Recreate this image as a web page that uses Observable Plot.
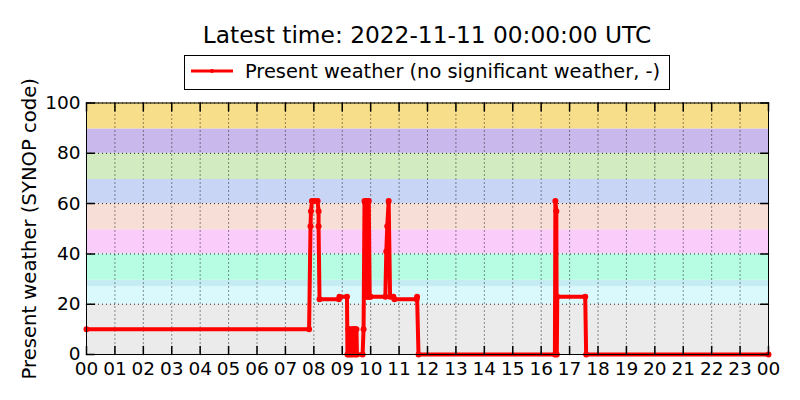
<!DOCTYPE html>
<html>
<head>
<meta charset="utf-8">
<script src="https://cdn.jsdelivr.net/npm/d3@7"></script>
<script src="https://cdn.jsdelivr.net/npm/@observablehq/plot@0.6"></script>
<style>
  body { margin: 0; background: #fff; font-family: "DejaVu Sans", sans-serif; }
  #wrap { position: relative; width: 800px; height: 400px; overflow: hidden; }
  #chart { position: absolute; left: 0; top: 0; }
  .title { position: absolute; left: 86px; width: 682px; top: 22.6px; text-align: center; font-size: 23.3px; line-height: 1; white-space: nowrap; color: #000; }
  .legend { position: absolute; left: 184px; top: 55px; width: 484px; height: 33px; border: 1px solid #000; background: #fff; }
  .legsym { position: absolute; left: 188px; top: 65px; }
  .legtext { position: absolute; left: 245px; top: 61.9px; font-size: 19.4px; line-height: 1; white-space: nowrap; color: #000; }
</style>
</head>
<body>
<div id="wrap">
  <div id="chart"></div>
  <div class="title" id="title"></div>
  <div class="legend"></div>
  <svg class="legsym" width="50" height="12"><line x1="3" x2="45" y1="6" y2="6" stroke="red" stroke-width="3"/><circle cx="24" cy="6" r="2" fill="red"/></svg>
  <div class="legtext" id="legtext"></div>
</div>
<script>
// ---- Data ----
const titleText = "Latest time: 2022-11-11 00:00:00 UTC";
const seriesLabel = "Present weather (no significant weather, -)";
const yLabel = "Present weather (SYNOP code)";

const times = [
  "00:00","07:50","07:53","07:54","07:56","08:02","08:08","08:10","08:10","08:12",
  "08:53","08:54","09:10","09:11","09:13","09:14","09:16","09:18","09:20","09:22",
  "09:24","09:26","09:27","09:28","09:30","09:31","09:43","09:45","09:47","09:49",
  "09:50","09:52","09:53","09:55","09:56","09:58","10:00","10:31","10:33","10:35",
  "10:38","10:41","10:48","10:50","11:37","11:38","11:41","16:29","16:30","16:32",
  "16:33","16:34","17:33","17:35","24:00"
];
const codes = [
  10,10,51,57,61,61,61,57,51,22,
  22,23,23,0,10,0,10,0,10,0,
  10,10,0,10,10,0,0,10,61,23,
  61,23,61,23,61,23,23,23,41,51,
  61,23,23,22,22,23,0,0,61,57,
  0,23,23,0,0
];

const hourTicks = d3.range(0, 25);           // 00 .. 24 (shown as 00)
const yTicks = [0, 20, 40, 60, 80, 100];

const bandLo    = [0, 20, 27, 29.5, 40, 49.6, 60, 69.6, 80, 89.7];
const bandHi    = [20, 27, 29.5, 40, 49.6, 60, 69.6, 80, 89.7, 100];
const bandColor = ["#ebebeb","#d9f9fc","#c5ebf3","#b7fde3","#f9ccf9","#f7ded6","#c8d5f5","#d2ebc0","#c9b8ec","#f7de8a"];

// ---- Build ----
document.getElementById("title").textContent = titleText;
document.getElementById("legtext").textContent = seriesLabel;

const start = new Date(Date.UTC(2022, 10, 10));
const toDate = s => { const [h, m] = s.split(":").map(Number); return new Date(start.getTime() + (h * 60 + m) * 60000); };
const data = times.map((t, i) => ({ time: toDate(t), code: codes[i] }));
const xDomain = [toDate("00:00"), toDate("24:00")];
const tickDates = hourTicks.map(h => toDate(h + ":00"));
const bands = bandLo.map((lo, i) => ({ lo, hi: bandHi[i], color: bandColor[i] }));

const tickShape = { draw(ctx, l) { ctx.moveTo(0, 0); ctx.lineTo(0, -l); } };
const tickLen = 8;

const chart = Plot.plot({
  width: 800,
  height: 400,
  marginLeft: 86,
  marginRight: 32,
  marginTop: 102.5,
  marginBottom: 46,
  style: { fontFamily: "DejaVu Sans", fontSize: "18.5px", color: "black", background: "transparent" },
  x: { type: "utc", domain: xDomain },
  y: { domain: [0, 100] },
  color: { type: "identity" },
  marks: [
    Plot.rect(bands, { x1: () => xDomain[0], x2: () => xDomain[1], y1: "lo", y2: "hi", fill: "color" }),
    Plot.ruleX(tickDates, { x: d => d, stroke: "#000", strokeWidth: 1, strokeDasharray: "1,3", strokeOpacity: 0.85 }),
    Plot.ruleY(yTicks, { y: d => d, stroke: "#000", strokeWidth: 1, strokeDasharray: "1,3", strokeOpacity: 0.85 }),
    Plot.line(data, { x: "time", y: "code", stroke: "red", strokeWidth: 4, strokeLinejoin: "round" }),
    Plot.dot(data, { x: "time", y: "code", r: 3, fill: "red" }),
    Plot.frame({ stroke: "black", strokeWidth: 1 }),
    Plot.vector(tickDates, { x: d => d, frameAnchor: "bottom", length: tickLen, rotate: 0, anchor: "start", shape: tickShape, stroke: "black" }),
    Plot.vector(tickDates, { x: d => d, frameAnchor: "top", length: tickLen, rotate: 180, anchor: "start", shape: tickShape, stroke: "black" }),
    Plot.vector(yTicks, { y: d => d, frameAnchor: "left", length: tickLen, rotate: 90, anchor: "start", shape: tickShape, stroke: "black" }),
    Plot.vector(yTicks, { y: d => d, frameAnchor: "right", length: tickLen, rotate: -90, anchor: "start", shape: tickShape, stroke: "black" }),
    Plot.axisX({ ticks: tickDates, tickFormat: d3.utcFormat("%H"), tickSize: 0, tickPadding: 7, label: null, fontSize: 18.5 }),
    Plot.axisY({ ticks: yTicks, tickSize: 0, tickPadding: 6, label: null, fontSize: 18.5 }),
    Plot.text([yLabel], { frameAnchor: "left", textAnchor: "middle", lineAnchor: "middle", rotate: -90, dx: -57, fontSize: 19.6, fill: "black" })
  ]
});
document.getElementById("chart").appendChild(chart);
</script>
</body>
</html>
